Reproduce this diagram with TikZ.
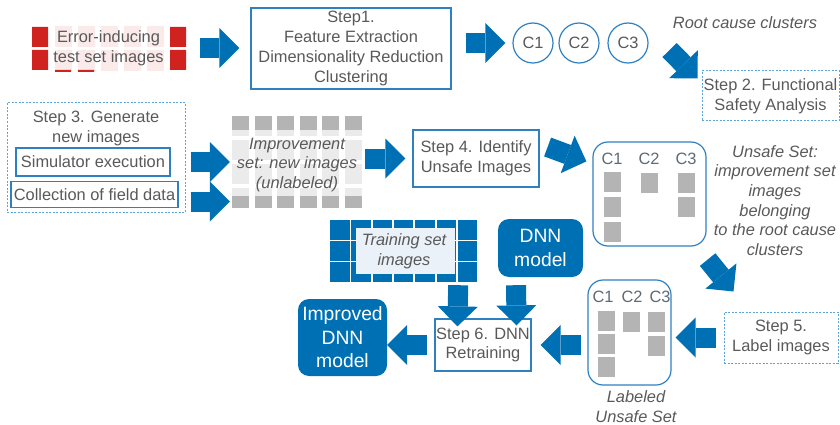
\documentclass[tikz,border=0pt]{standalone}
\usepackage{fontspec}
\setmainfont{Liberation Sans}
\usetikzlibrary{arrows.meta,positioning,calc}
\definecolor{arrblue}{HTML}{0070B4}
\definecolor{lineblue}{HTML}{2F80C0}
\definecolor{dashblue}{HTML}{5AA5DA}
\definecolor{txtgray}{HTML}{595959}
\definecolor{clgray}{HTML}{5C6B75}
\definecolor{imgdark}{HTML}{B4B4B4}
\definecolor{imglight}{HTML}{EBEBEB}
\definecolor{errred}{HTML}{D0231F}
\definecolor{errpink}{HTML}{FBEAEA}
\definecolor{trainbg}{HTML}{EAF1F8}
\newcommand{\stepfont}{\fontsize{16.4}{19.7}\selectfont}
\newcommand{\dnnfont}{\fontsize{19.3}{23.5}\selectfont}
\tikzset{
  basic/.style    = {rectangle, inner sep=0pt, align=center, text=txtgray, font=\stepfont},
  stepbox/.style  = {basic, draw=lineblue, line width=1.2pt, fill=white},
  dashstep/.style = {basic, draw=dashblue, line width=1pt, dash pattern=on 2pt off 1.5pt},
  clus/.style     = {basic, circle, draw=lineblue, line width=1.2pt, minimum size=40pt},
  setbox/.style   = {basic, draw=lineblue, line width=1.2pt, rounded corners=15pt},
  dnn/.style      = {basic, fill=arrblue, text=white, rounded corners=11pt, font=\dnnfont},
  note/.style     = {basic, font=\stepfont\itshape},
  clab/.style     = {basic, text=clgray},
  bigarr/.style   = {color=arrblue, line width=20pt,
    -{Triangle[length=20pt,width=40pt,line width=0pt]}}
}

\begin{document}
\begin{tikzpicture}[x=1pt,y=-1pt]
\useasboundingbox (0,0) rectangle (840,425);

% error-inducing images
\foreach \i in {1,...,5}
  \fill[errpink] (32+23*\i,26) rectangle ++(17,21) (32+23*\i,50) rectangle ++(17,21);
\foreach \i in {0,6}
  \fill[errred] (32+23*\i,27) rectangle ++(16,20) (32+23*\i,50) rectangle ++(16,20);
\fill[errred] (55,70) rectangle ++(16,2) (78,70) rectangle ++(16,2);

% improvement set
\foreach \i in {0,...,5}{
  \foreach \j in {0,...,3}
    \fill[imglight] (232+22.6*\i,116+24*\j) rectangle ++(17,20);
  \fill[imgdark] (232+22.6*\i,116) rectangle ++(17,14);
  \fill[imgdark] (232+22.6*\i,196) rectangle ++(17,12);
}

% training set
\foreach \i in {0,...,6}
  \foreach \j in {0,...,2}
    \fill[arrblue] (330+21.3*\i,220+21*\j) rectangle ++(19.5,19.5);
\fill[trainbg] (356,228) rectangle (455,274);

% clustered images
\foreach \x/\y in {604/172,604/197,604/222,641/173,678/173,678/197}
  \fill[imgdark] (\x,\y) rectangle ++(17,20);
\foreach \x/\y in {598/311,598/334,598/357,623/312,648/312,648/336}
  \fill[imgdark] (\x,\y) rectangle ++(17,20);

\node[basic, minimum width=154pt, minimum height=46pt] (err) at (108.5,48) {Error-inducing\\test set images};
\node[stepbox, minimum width=200pt, minimum height=81pt] (step1) at (351,48.5) {Step1.\\Feature Extraction\\Dimensionality Reduction\\Clustering};
\node[clus] (c1) at (533,43) {C1};
\node[clus] (c2) at (579,43) {C2};
\node[clus] (c3) at (628,43) {C3};
\node[note] (rootlbl) at (745,23) {Root cause clusters};
\node[dashstep, minimum width=137pt, minimum height=50pt] (step2) at (770.5,96) {Step 2. Functional\\Safety Analysis};

\node[dashstep, minimum width=178pt, minimum height=109pt] (step3) at (96,157.5) {};
\node[basic] (step3t) at (96,128.5) {Step 3. Generate\\new images};
\node[stepbox, minimum width=154pt, minimum height=28pt] (sim) at (93,162) {Simulator execution};
\node[stepbox, minimum width=167pt, minimum height=26pt] (coll) at (94.5,194.5) {Collection of field data};
\node[note, minimum width=130pt, minimum height=95pt] (imp) at (297,165) {Improvement\\set: new images\\(unlabeled)};
\node[stepbox, minimum width=126pt, minimum height=57pt] (step4) at (476,158.5) {Step 4. Identify\\Unsafe Images};

\node[setbox, minimum width=113pt, minimum height=104pt] (unsafe) at (649.5,194) {};
\node[clab] (u1) at (612,159) {C1};
\node[clab] (u2) at (649,159) {C2};
\node[clab] (u3) at (686,159) {C3};
\node[note] (unsafetxt) at (775,200.5) {Unsafe Set:\\improvement set\\images\\belonging\\to the root cause\\clusters};

\node[dashstep, minimum width=114pt, minimum height=51pt] (step5) at (781,337.5) {Step 5.\\Label images};
\node[setbox, minimum width=83pt, minimum height=105pt] (labeled) at (629.5,332.5) {};
\node[clab] (l1) at (603,297) {C1};
\node[clab] (l2) at (632,297) {C2};
\node[clab] (l3) at (660,297) {C3};
\node[note] (labeledtxt) at (636,406.5) {Labeled\\Unsafe Set};

\node[stepbox, minimum width=96pt, minimum height=52pt] (step6) at (483,345) {Step 6. DNN\\Retraining};
\node[note, minimum width=148pt, minimum height=62pt] (train) at (404,251) {Training set\\images};
\node[dnn, minimum width=85pt, minimum height=58pt] (dnn) at (540.5,248) {DNN\\model};
\node[dnn, minimum width=89pt, minimum height=77pt] (impdnn) at (342.5,337.5) {Improved\\DNN\\model};

\draw[bigarr, shorten <=14pt, shorten >=11pt] (err.east) -- (err.east -| step1.west);
\draw[bigarr, shorten <=14pt, shorten >=7pt] (step1.east |- c1.west) -- (c1.west);
\draw[bigarr] ([shift={(21,7)}]c3.east) -- ([shift={(-4,8)}]step2.north west);
\draw[bigarr, shorten <=20pt, shorten >=2pt] (sim.east) -- (sim.east -| imp.west);
\draw[bigarr] ([shift={(12,7)}]coll.east) -- ($(coll.east -| imp.west)+(-2,7)$);
\draw[bigarr, shorten <=3pt, shorten >=7pt] (imp.east |- step4.west) -- (step4.west);
\draw[bigarr] ([shift={(8,-11.5)}]step4.east) -- ([shift={(-6,20)}]unsafe.north west);
\draw[bigarr] ([shift={(1,13)}]unsafe.south east) -- ([shift={(10,-20)}]step5.north west);
\draw[bigarr, shorten <=8pt, shorten >=4pt] (step5.west) -- (step5.west -| labeled.east);
\draw[bigarr, shorten <=6pt, shorten >=9pt] (labeled.west |- step6.east) -- (step6.east);
\draw[bigarr] ([shift={(-20,3)}]train.south east) -- ([shift={(23,8)}]step6.north west);
\draw[bigarr] ([shift={(-24.5,8)}]dnn.south) -- ([shift={(-15,7)}]step6.north east);
\draw[bigarr, shorten <=7pt] (step6.west) -- (step6.west -| impdnn.east);
\end{tikzpicture}
\end{document}
